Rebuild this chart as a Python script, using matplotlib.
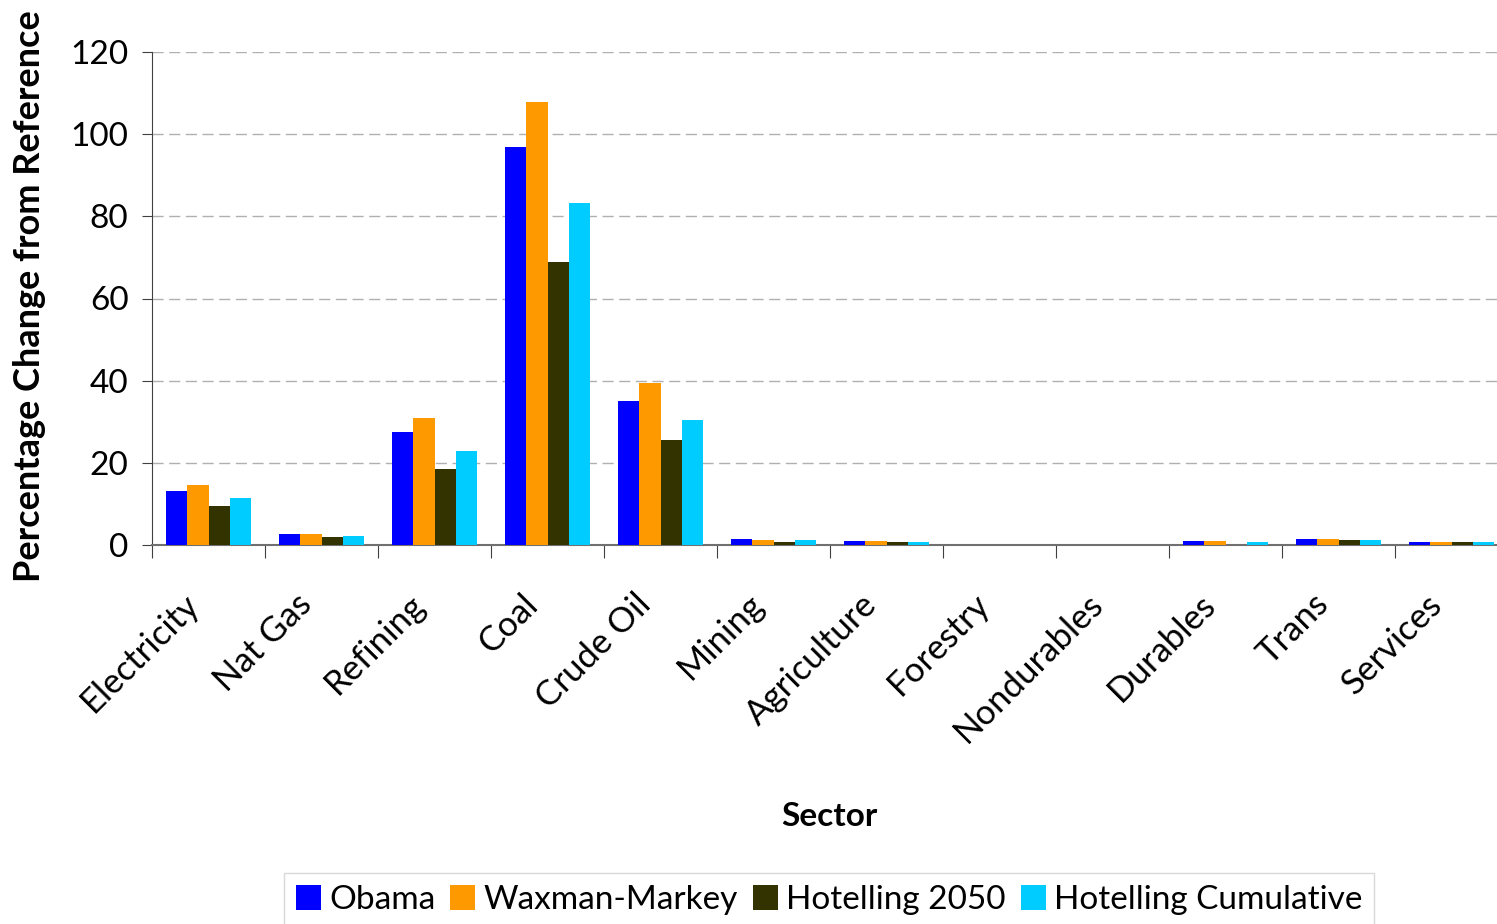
import matplotlib
matplotlib.use("Agg")
import matplotlib.pyplot as plt
import matplotlib.transforms as mtransforms
import numpy as np

sectors = ["Electricity", "Nat Gas", "Refining", "Coal", "Crude Oil", "Mining",
           "Agriculture", "Forestry", "Nondurables", "Durables", "Trans", "Services"]
obama = [13.1, 2.7, 27.5, 96.9, 35.1, 1.4, 1.0, 0, 0, 1.0, 1.4, 0.7]
waxman = [14.6, 2.7, 30.9, 107.8, 39.4, 1.3, 1.0, 0, 0, 1.0, 1.4, 0.7]
hot2050 = [9.5, 1.9, 18.5, 68.9, 25.6, 0.8, 0.7, 0, 0, 0, 1.1, 0.7]
hotcum = [11.4, 2.2, 22.9, 83.3, 30.4, 1.1, 0.7, 0, 0, 0.7, 1.1, 0.7]
series = [("Obama", obama, "#0000FF"),
          ("Waxman-Markey", waxman, "#FF9900"),
          ("Hotelling 2050", hot2050, "#333300"),
          ("Hotelling Cumulative", hotcum, "#00CCFF")]
yticks = [0, 20, 40, 60, 80, 100, 120]

plt.rcParams['font.family'] = ['Lato', 'DejaVu Sans']
fig = plt.figure(figsize=(14.97, 9.24), dpi=100)
W, H = 1497, 924
left, right, top, bottom = 152, 1508, 52, 545
ax = fig.add_axes([left / W, 1 - bottom / H, (right - left) / W, (bottom - top) / H])

x = np.arange(len(sectors))
bw = 0.1875
for i, (name, vals, col) in enumerate(series):
    ax.bar(x - 1.5 * bw + i * bw, vals, width=bw, color=col, label=name, zorder=3)

ax.set_xlim(-0.5, len(sectors) - 0.5)
ax.set_ylim(0, 120)
ax.set_yticks(yticks)
ax.set_yticklabels([str(t) for t in yticks], fontsize=24)
ax.yaxis.grid(True, linestyle=(0, (8, 4)), color="#B0B0B0", linewidth=1, zorder=0)
for s in ["top", "right"]:
    ax.spines[s].set_visible(False)
ax.spines["left"].set_color("#404040")
ax.spines["bottom"].set_color("#707070")
ax.spines["bottom"].set_linewidth(1.5)
ax.tick_params(axis="y", length=7, color="#404040", pad=10)

ax.set_xticks(np.arange(len(sectors) + 1) - 0.5)
ax.set_xticklabels([])
ax.tick_params(axis="x", length=9, color="#404040")
ax.set_xticks(x, minor=True)
ax.set_xticklabels(sectors, minor=True, rotation=45, ha="right", rotation_mode="anchor", fontsize=25)
ax.tick_params(axis="x", which="minor", length=0, pad=20)
offset = mtransforms.ScaledTranslation(-0.26, -0.15, fig.dpi_scale_trans)
for lab in ax.get_xticklabels(minor=True):
    lab.set_transform(lab.get_transform() + offset)

fig.text(30 / W, 1 - 296 / H, "Percentage Change from Reference", fontsize=26, fontweight="bold",
         rotation=90, ha="center", va="center")
fig.text(829 / W, 1 - 817 / H, "Sector", fontsize=24, fontweight="bold", ha="center", va="center")

leg = fig.legend(loc="center", bbox_to_anchor=(829 / W, 1 - 900 / H), ncol=4, fontsize=24,
                 frameon=True, fancybox=False, edgecolor="#D0D0D0", handlelength=0.75,
                 handleheight=0.8, handletextpad=0.25, columnspacing=0.45, borderpad=0.35)

fig.savefig("out.png", dpi=100)
